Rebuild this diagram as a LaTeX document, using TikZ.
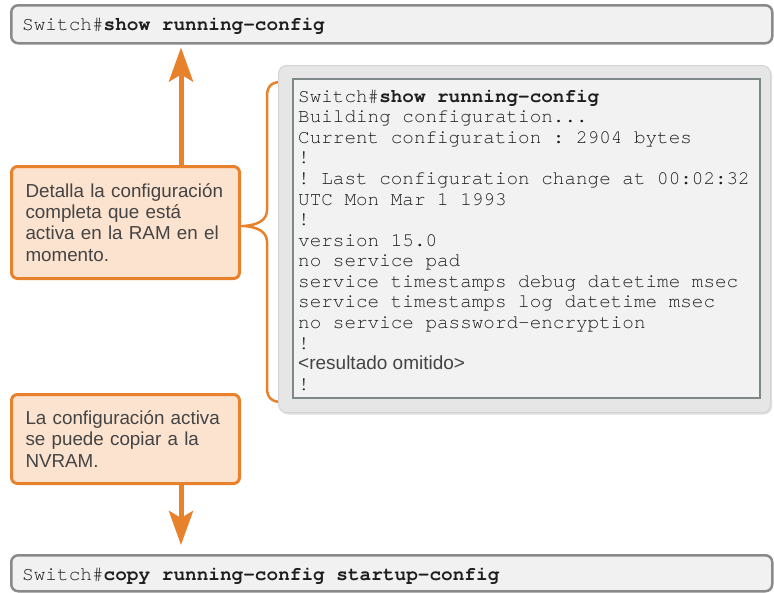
\documentclass[tikz,border=0pt]{standalone}
\usepackage{fontspec}
\setmainfont{Liberation Sans}
\setmonofont[Ligatures={NoCommon}]{TeX Gyre Cursor}
\usetikzlibrary{arrows.meta,shadows}
\definecolor{orangeline}{HTML}{E8812C}
\definecolor{orangefill}{HTML}{FCE3D0}
\definecolor{barfill}{HTML}{F1F1F1}
\definecolor{barline}{HTML}{8A8A8A}
\definecolor{panelfill}{HTML}{E6E6E6}
\definecolor{panelline}{HTML}{D4D4D4}
\definecolor{innerfill}{HTML}{F2F2F2}
\definecolor{innerline}{HTML}{7F8888}
\definecolor{txt}{HTML}{444444}
\definecolor{monotxt}{HTML}{1E1E1E}
\begin{document}
\begin{tikzpicture}[x=1pt,y=-1pt,
  cmdbar/.style={draw=barline, line width=2.5pt, fill=barfill, rounded corners=7pt,
    anchor=north west, inner sep=0pt, minimum width=761pt},
  cmdtext/.style={anchor=base west, inner sep=0pt,
    font=\fontsize{19.4}{20}\selectfont\ttfamily, text=monotxt},
  note/.style={draw=orangeline, line width=3pt, fill=orangefill, rounded corners=6pt,
    anchor=north west, align=left, inner xsep=14pt, inner ysep=0pt, text width=200pt,
    font=\fontsize{18.8}{21.3}\selectfont, text=txt},
  arrowline/.style={draw=orangeline, line width=5pt,
    -{Stealth[width=24pt,length=34pt,inset=7pt]}},
  bracestyle/.style={draw=orangeline, line width=2.5pt},
]
\useasboundingbox (0,0) rectangle (774,592);

% command bars
\node[cmdbar, minimum height=38pt] (top) at (10,4) {};
\node[cmdtext] (toptext) at ([xshift=12pt,yshift=-6pt]top.west)
  {Switch\#\textbf{show running-config}};
\node[cmdbar, minimum height=36pt] (bot) at (10,554) {};
\node[cmdtext] (bottext) at ([xshift=12pt,yshift=-7.5pt]bot.west)
  {Switch\#\textbf{copy running-config startup-config}};

% brace
\draw[bracestyle] (281,82) .. controls (272,82) and (267,86) .. (267,96)
  -- (267,210) .. controls (267,220) and (258,225) .. (244,226)
  .. controls (258,227) and (267,232) .. (267,242)
  -- (267,388) .. controls (267,398) and (272,402) .. (282,402);

% config panel
\node[draw=panelline, line width=1pt, fill=panelfill, rounded corners=8pt,
  minimum width=492pt, minimum height=347pt, anchor=north west, inner sep=0pt,
  drop shadow={shadow xshift=1.5pt, shadow yshift=-2pt, opacity=0.25}] (panel) at (278,65) {};
\node[draw=innerline, line width=1.5pt, fill=innerfill, minimum width=467pt,
  minimum height=319pt, anchor=north west, inner sep=0pt] (inner) at (292,78) {};
\node[anchor=north west, inner sep=0pt, align=left,
  font=\fontsize{19.3}{20.57}\selectfont\ttfamily, text=monotxt] (cfg) at (298,86)
  {\rule{0pt}{16pt}Switch\#\textbf{show running-config}\\
   Building configuration...\\
   Current configuration : 2904 bytes\\
   !\\
   ! Last configuration change at 00:02:32\\
   UTC Mon Mar 1 1993\\
   !\\
   version 15.0\\
   no service pad\\
   service timestamps debug datetime msec\\
   service timestamps log datetime msec\\
   no service password-encryption\\
   !\\
   {\rmfamily\fontsize{19}{20.57}\selectfont\color{txt}<resultado omitido>}\\
   !};

% notes
\node[note, minimum height=112pt] (n1) at (10,165)
  {Detalla la configuración\\completa que está\\activa en la RAM en el\\momento.};
\node[note, minimum height=89pt] (n2) at (10,393)
  {La configuración activa\\se puede copiar a la\\NVRAM.};

% arrows
\coordinate (ax) at (181,0);
\draw[arrowline, shorten >=3pt] (n1.north -| ax) -- (top.south -| ax);
\draw[arrowline, shorten >=9pt] (n2.south -| ax) -- (bot.north -| ax);
\end{tikzpicture}
\end{document}
